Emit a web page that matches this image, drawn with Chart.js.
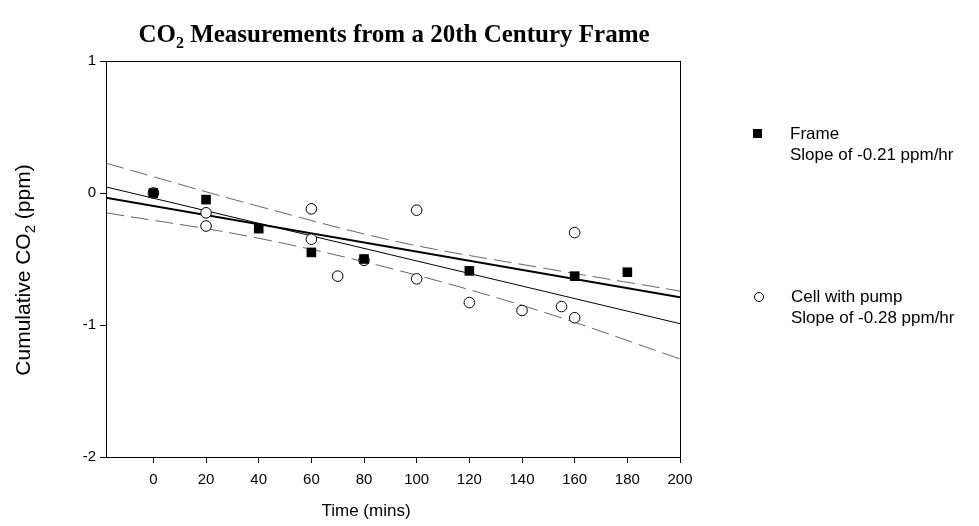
<!DOCTYPE html>
<html><head><meta charset="utf-8">
<script src="https://cdn.jsdelivr.net/npm/chart.js@4"></script>
<style>html,body{margin:0;padding:0;background:#fff}#wrap{width:979px;height:526px;position:relative}</style>
</head><body><div id="wrap"><canvas id="c" width="979" height="526"></canvas></div>
<script>
// ---- data ----
const xTickValues = [0, 20, 40, 60, 80, 100, 120, 140, 160, 180, 200];
const yTickValues = [-2, -1, 0, 1];

const frameTime = [0, 20, 40, 60, 80, 120, 160, 180];
const frameCO2  = [0, -0.05, -0.27, -0.45, -0.50, -0.59, -0.63, -0.60];

const cellTime = [0, 20, 20, 60, 60, 70, 80, 100, 100, 120, 140, 155, 160, 160];
const cellCO2  = [0, -0.15, -0.25, -0.12, -0.35, -0.63, -0.51, -0.13, -0.65, -0.83, -0.89, -0.86, -0.945, -0.30];

const frameFitTime = [-18, 200];
const frameFitCO2  = [-0.035, -0.79];

const cellFitTime = [-18, 200];
const cellFitCO2  = [0.046, -0.99];

const bandTime  = [-18, 38, 93, 147, 200];
const bandUpper = [0.226, -0.09, -0.37, -0.565, -0.743];
const bandLower = [-0.15, -0.335, -0.586, -0.895, -1.257];

const titleMain = "Measurements from a 20th Century Frame";
const legendItems = [
  { name: "Frame", sub: "Slope of -0.21 ppm/hr" },
  { name: "Cell with pump", sub: "Slope of -0.28 ppm/hr" }
];

const pts = (xs, ys) => xs.map((x, i) => ({ x: x, y: ys[i] }));

const SANS = '"Liberation Sans", Arial, sans-serif';
const SERIF = '"Liberation Serif", "Times New Roman", serif';

const decorPlugin = {
  id: 'decor',
  afterDraw(chart) {
    const ctx = chart.ctx;
    const a = chart.chartArea;
    ctx.save();
    // frame box
    ctx.strokeStyle = '#000';
    ctx.lineWidth = 1;
    ctx.strokeRect(Math.round(a.left) + 0.5, Math.round(a.top) + 0.5, Math.round(a.right - a.left), Math.round(a.bottom - a.top));

    // title with subscript
    ctx.fillStyle = '#000';
    ctx.textBaseline = 'alphabetic';
    const tf = 'bold 25px ' + SERIF, sf = 'bold 16px ' + SERIF;
    ctx.font = tf; const wCO = ctx.measureText('CO').width;
    ctx.font = sf; const w2 = ctx.measureText('2').width;
    ctx.font = tf; const wRest = ctx.measureText(' ' + titleMain).width;
    const total = wCO + w2 + wRest;
    let tx = 394 - total / 2; const ty = 42;
    ctx.textAlign = 'left';
    ctx.font = tf; ctx.fillText('CO', tx, ty); tx += wCO;
    ctx.font = sf; ctx.fillText('2', tx, ty + 6); tx += w2;
    ctx.font = tf; ctx.fillText(' ' + titleMain, tx, ty);

    // y-axis title rotated, with subscript
    ctx.save();
    ctx.translate(30, 270);
    ctx.rotate(-Math.PI / 2);
    const yf = '21px ' + SANS, ysf = '15px ' + SANS;
    const p1 = 'Cumulative CO', p3 = ' (ppm)';
    ctx.font = yf; const a1 = ctx.measureText(p1).width;
    ctx.font = ysf; const a2 = ctx.measureText('2').width;
    ctx.font = yf; const a3 = ctx.measureText(p3).width;
    let yx = -(a1 + a2 + a3) / 2;
    ctx.font = yf; ctx.fillText(p1, yx, 0); yx += a1;
    ctx.font = ysf; ctx.fillText('2', yx, 5); yx += a2;
    ctx.font = yf; ctx.fillText(p3, yx, 0);
    ctx.restore();

    // x-axis title
    ctx.font = '17px ' + SANS;
    ctx.textAlign = 'center';
    ctx.fillText('Time (mins)', 366, 516);

    // legend
    ctx.textAlign = 'left';
    ctx.textBaseline = 'middle';
    ctx.font = '17px ' + SANS;
    ctx.fillStyle = '#000';
    ctx.fillRect(753, 129, 9, 9);
    ctx.fillText(legendItems[0].name, 790, 134);
    ctx.fillText(legendItems[0].sub, 790, 155);
    ctx.beginPath();
    ctx.arc(759, 297, 4.5, 0, Math.PI * 2);
    ctx.fillStyle = '#fff'; ctx.fill();
    ctx.strokeStyle = '#000'; ctx.lineWidth = 1; ctx.stroke();
    ctx.fillStyle = '#000';
    ctx.fillText(legendItems[1].name, 791, 297);
    ctx.fillText(legendItems[1].sub, 791, 318);
    ctx.restore();
  }
};

new Chart(document.getElementById('c'), {
  type: 'scatter',
  data: {
    datasets: [
      { label: 'Frame', data: pts(frameTime, frameCO2), pointStyle: 'rect', pointRadius: 6.8,
        backgroundColor: '#000', borderColor: '#000', borderWidth: 0, showLine: false },
      { label: 'Cell with pump', data: pts(cellTime, cellCO2), pointStyle: 'circle', pointRadius: 5.3,
        backgroundColor: '#fff', borderColor: '#000', borderWidth: 1, showLine: false },
      { label: 'Frame fit', data: pts(frameFitTime, frameFitCO2), showLine: true, pointRadius: 0,
        borderColor: '#000', borderWidth: 2, fill: false },
      { label: 'Cell fit', data: pts(cellFitTime, cellFitCO2), showLine: true, pointRadius: 0,
        borderColor: '#000', borderWidth: 1, fill: false },
      { label: 'Upper band', data: pts(bandTime, bandUpper), showLine: true, pointRadius: 0,
        borderColor: '#666', borderWidth: 1, borderDash: [18, 7], tension: 0.35, fill: false },
      { label: 'Lower band', data: pts(bandTime, bandLower), showLine: true, pointRadius: 0,
        borderColor: '#666', borderWidth: 1, borderDash: [18, 7], tension: 0.35, fill: false }
    ]
  },
  options: {
    responsive: false,
    animation: false,
    devicePixelRatio: 1,
    layout: { padding: { left: 0, top: 61, right: 299, bottom: 0 } },
    plugins: { legend: { display: false }, title: { display: false }, tooltip: { enabled: false } },
    scales: {
      x: {
        type: 'linear', min: -18, max: 200,
        afterBuildTicks: (s) => { s.ticks = xTickValues.map(v => ({ value: v })); },
        afterFit: (s) => { s.height = 69; },
        grid: { drawOnChartArea: false, drawTicks: true, tickLength: 6, color: '#000' },
        border: { display: true, color: '#000', width: 1 },
        ticks: { color: '#000', font: { family: SANS, size: 15 }, padding: 8, maxRotation: 0 }
      },
      y: {
        type: 'linear', min: -2, max: 1,
        afterBuildTicks: (s) => { s.ticks = yTickValues.map(v => ({ value: v })); },
        afterFit: (s) => { s.width = 106; },
        grid: { drawOnChartArea: false, drawTicks: true, tickLength: 6, color: '#000' },
        border: { display: true, color: '#000', width: 1 },
        ticks: { color: '#000', font: { family: SANS, size: 15 }, padding: 4 }
      }
    }
  },
  plugins: [decorPlugin]
});
</script>
</body></html>
